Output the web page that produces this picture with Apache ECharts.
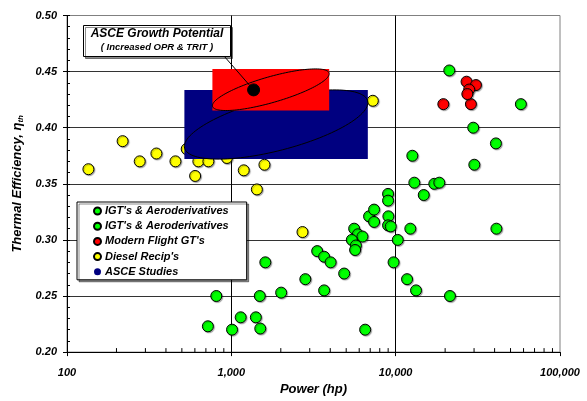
<!DOCTYPE html>
<html>
<head>
<meta charset="utf-8">
<script src="https://cdn.jsdelivr.net/npm/echarts@6/dist/echarts.min.js"></script>
<style>
    html, body { margin: 0; padding: 0; background: #fff; }
    #main { width: 587px; height: 401px; }
</style>
</head>
<body>
<div id="main"></div>
<script>
// Industrial gas turbines (large frame units)
let igtPower = [21200, 57800, 29650, 40740, 30100, 12630, 12990, 17180, 18430, 14820, 8990, 8990,
    9030, 8990, 9335, 12280, 41020, 10300, 9710, 11730, 13300, 21400];
let igtEff = [0.451, 0.421, 0.400, 0.386, 0.367, 0.375, 0.351, 0.350, 0.351, 0.340, 0.341, 0.335,
    0.321, 0.313, 0.312, 0.310, 0.310, 0.300, 0.280, 0.265, 0.255, 0.250];

// Aeroderivatives (smaller units)
let aeroPower = [6520, 5590, 5890, 6280, 5410, 5730, 5665, 6890, 7390, 7390, 3330, 3670, 4020,
    4860, 2820, 3670, 2010, 1610, 1490, 810, 720, 1010, 1140, 1410, 1500];
let aeroEff = [0.220, 0.310, 0.305, 0.303, 0.300, 0.295, 0.291, 0.321, 0.327, 0.316, 0.290, 0.285, 0.280,
    0.270, 0.265, 0.255, 0.253, 0.280, 0.250, 0.250, 0.223, 0.220, 0.231, 0.231, 0.221];

let flightPower = [19500, 28700, 27000, 30800, 28000, 27300];
let flightEff = [0.421, 0.421, 0.441, 0.438, 0.434, 0.430];

let dieselPower = [135, 218, 277, 350, 457, 535, 602, 630, 725, 940, 1190, 1590, 1430, 7260, 2710];
let dieselEff = [0.363, 0.388, 0.370, 0.377, 0.370, 0.381, 0.357, 0.370, 0.370, 0.373, 0.362, 0.367, 0.345, 0.424, 0.307];

// ASCE study envelopes (power range x efficiency range)
let ascePowerLow = [518, 767];
let ascePowerHigh = [6770, 3940];
let asceEffLow = [0.372, 0.4153];
let asceEffHigh = [0.4337, 0.4524];

let growthPoint = [1366, 0.4337];

let xTicks = [100, 1000, 10000, 100000];
let yTicks = [0.20, 0.25, 0.30, 0.35, 0.40, 0.45, 0.50];

let asceColors = ['#000080', '#ff0000'];
let asceTilt = [14.5, 16];

let font = "'Liberation Sans', Arial, sans-serif";
let zip = (xs, ys) => xs.map((x, i) => [x, ys[i]]);

// minor log ticks 2..9 in each decade
let minorTicks = [];
for (let d = 100; d < 100000; d *= 10) {
    for (let k = 2; k <= 9; k++) minorTicks.push([k * d, yTicks[0]]);
}

let markerStyle = (color) => ({
    color: color, opacity: 1, borderColor: '#000', borderWidth: 1,
    shadowColor: 'rgba(0,0,0,0.3)', shadowOffsetX: 1, shadowOffsetY: 1, shadowBlur: 1
});

let chart = echarts.init(document.getElementById('main'));

let option = {
    animation: false,
    backgroundColor: '#fff',
    textStyle: {fontFamily: font},
    grid: {left: 67, top: 15.5, width: 493, height: 337, show: true, borderColor: '#808080', borderWidth: 1},
    legend: {
        orient: 'vertical', left: 77, top: 202,
        data: ["IGT's & Aeroderivatives", "IGT's & Aeroderivatives\u200b", "Modern Flight GT's", "Diesel Recip's", 'ASCE Studies'],
        backgroundColor: '#fff', borderColor: '#000', borderWidth: 1,
        shadowColor: 'rgba(0,0,0,0.45)', shadowOffsetX: 2, shadowOffsetY: 2, shadowBlur: 0,
        padding: [2, 18, 1, 16], itemGap: 1.2, itemWidth: 7, itemHeight: 7, icon: 'circle',
        textStyle: {fontFamily: font, fontStyle: 'italic', fontWeight: 'bold', fontSize: 11, color: '#000', lineHeight: 14, padding: [0, 0, 0, -1]}
    },
    xAxis: {
        type: 'log', logBase: 10, min: xTicks[0], max: xTicks[xTicks.length - 1],
        name: 'Power (hp)', nameLocation: 'middle', nameGap: 29,
        nameTextStyle: {fontFamily: font, fontStyle: 'italic', fontWeight: 'bold', fontSize: 13, color: '#000'},
        axisLine: {lineStyle: {color: '#000', width: 1}},
        axisTick: {show: true, length: 4, lineStyle: {color: '#000'}},
        axisLabel: {
            margin: 15, color: '#000', fontFamily: font, fontStyle: 'italic', fontWeight: 'bold', fontSize: 11,
            formatter: (v) => Number(v).toLocaleString('en-US')
        },
        splitLine: {show: true, showMinLine: false, showMaxLine: false, lineStyle: {color: '#000', width: 1}}
    },
    yAxis: [{
        type: 'value', min: yTicks[0], max: yTicks[yTicks.length - 1], interval: 0.05,
        name: 'Thermal Efficiency, {e|η}{s|th}', nameLocation: 'middle', nameGap: 40,
        nameTextStyle: {
            fontFamily: font, fontStyle: 'italic', fontWeight: 'bold', fontSize: 13, color: '#000',
            rich: {
                e: {fontFamily: font, fontStyle: 'italic', fontWeight: 'bold', fontSize: 13, color: '#000'},
                s: {fontFamily: font, fontStyle: 'italic', fontWeight: 'bold', fontSize: 8, color: '#000', padding: [6, 0, 0, 0]}
            }
        },
        axisLine: {show: true, lineStyle: {color: '#000', width: 1}},
        axisTick: {show: true, length: 4, lineStyle: {color: '#000'}},
        axisLabel: {
            margin: 10, color: '#000', fontFamily: font, fontStyle: 'italic', fontWeight: 'bold', fontSize: 11,
            formatter: (v) => v.toFixed(2)
        },
        splitLine: {show: true, showMinLine: false, showMaxLine: false, lineStyle: {color: '#333', width: 1}}
    }, {
        // inside minor ticks
        type: 'value', position: 'left', min: yTicks[0], max: yTicks[yTicks.length - 1], interval: 0.01,
        axisLine: {show: false}, axisLabel: {show: false}, splitLine: {show: false},
        axisTick: {show: true, inside: true, length: 3, lineStyle: {color: '#000'}}
    }],
    series: [{
        name: "Diesel Recip's", type: 'scatter', symbolSize: 11, z: 1,
        itemStyle: markerStyle('#ffff00'), data: zip(dieselPower, dieselEff)
    }, {
        name: 'ASCE Studies', type: 'custom', z: 2, itemStyle: {color: '#000080'},
        data: ascePowerLow.map((p, i) => [p, ascePowerHigh[i], asceEffLow[i], asceEffHigh[i]]),
        encode: {x: [0, 1], y: [2, 3]},
        renderItem: function (params, api) {
            let i = params.dataIndex;
            let tl = api.coord([api.value(0), api.value(3)]);
            let br = api.coord([api.value(1), api.value(2)]);
            let cx = (tl[0] + br[0]) / 2, cy = (tl[1] + br[1]) / 2;
            let W = (br[0] - tl[0]) / 2, H = (br[1] - tl[1]) / 2;
            let th = asceTilt[i] * Math.PI / 180;
            let c = Math.cos(th), s = Math.sin(th), c2 = c * c, s2 = s * s;
            let a = Math.sqrt(Math.max(0, (W * W * c2 - H * H * s2) / (c2 - s2)));
            let b = Math.sqrt(Math.max(0, (H * H * c2 - W * W * s2) / (c2 - s2)));
            let pts = [];
            for (let k = 0; k < 120; k++) {
                let t = k / 120 * Math.PI * 2;
                pts.push([cx + a * Math.cos(t) * c + b * Math.sin(t) * s, cy - a * Math.cos(t) * s + b * Math.sin(t) * c]);
            }
            return {
                type: 'group',
                children: [
                    {type: 'rect', shape: {x: tl[0], y: tl[1], width: 2 * W, height: 2 * H}, style: {fill: asceColors[i]}},
                    {type: 'polygon', shape: {points: pts}, style: {fill: null, stroke: '#000', lineWidth: 1}}
                ]
            };
        }
    }, {
        name: 'ASCE Growth Potential', type: 'scatter', symbolSize: 12, z: 3,
        itemStyle: {color: '#000', opacity: 1, borderColor: '#000'}, data: [growthPoint]
    }, {
        name: "IGT's & Aeroderivatives", type: 'scatter', symbolSize: 11, z: 3,
        itemStyle: markerStyle('#00ff00'), data: zip(igtPower, igtEff)
    }, {
        name: "IGT's & Aeroderivatives\u200b", type: 'scatter', symbolSize: 11, z: 3,
        itemStyle: markerStyle('#00ff00'), data: zip(aeroPower, aeroEff)
    }, {
        name: "Modern Flight GT's", type: 'scatter', symbolSize: 11, z: 3,
        itemStyle: markerStyle('#ff0000'), data: zip(flightPower, flightEff)
    }, {
        name: 'minorTicks', type: 'custom', silent: true, clip: false,
        data: minorTicks,
        renderItem: function (params, api) {
            let p = api.coord([api.value(0), api.value(1)]);
            return {type: 'line', shape: {x1: p[0], y1: p[1], x2: p[0], y2: p[1] - 4}, style: {stroke: '#000', lineWidth: 1}};
        }
    }]
};

chart.setOption(option);

// annotation box with leader line to the growth point
let dot = chart.convertToPixel({gridIndex: 0}, growthPoint);
chart.setOption({
    graphic: [{
        type: 'line', z: 100,
        shape: {x1: 224, y1: 56, x2: dot[0], y2: dot[1]},
        style: {stroke: '#000', lineWidth: 1}
    }, {
        type: 'group', left: 83, top: 25, z: 100,
        children: [{
            type: 'rect', shape: {x: 0, y: 0, width: 147, height: 31},
            style: {fill: '#fff', stroke: '#000', lineWidth: 1, shadowColor: 'rgba(0,0,0,0.45)', shadowOffsetX: 2, shadowOffsetY: 2}
        }, {
            type: 'text', x: 73.5, y: 8,
            style: {text: 'ASCE Growth Potential', fill: '#000', align: 'center', verticalAlign: 'middle', font: "italic bold 12px " + font}
        }, {
            type: 'text', x: 73.5, y: 22,
            style: {text: '( Increased OPR & TRIT )', fill: '#000', align: 'center', verticalAlign: 'middle', font: "italic bold 9.5px " + font}
        }]
    }]
});
</script>
</body>
</html>
